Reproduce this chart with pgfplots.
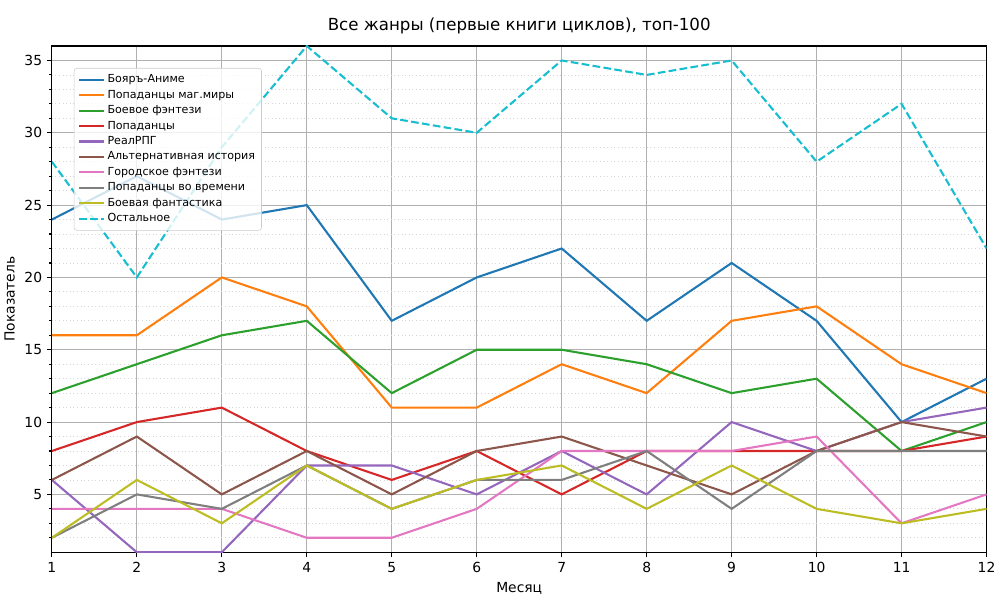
\documentclass[border=0pt]{standalone}
\usepackage{pgfplots}
\pgfplotsset{compat=1.18}
\usepackage{fontspec}
\setmainfont{DejaVu Sans}
\definecolor{tblue}{HTML}{1F77B4}
\definecolor{torange}{HTML}{FF7F0E}
\definecolor{tgreen}{HTML}{2CA02C}
\definecolor{tred}{HTML}{D62728}
\definecolor{tpurple}{HTML}{9467BD}
\definecolor{tbrown}{HTML}{8C564B}
\definecolor{tpink}{HTML}{E377C2}
\definecolor{tgray}{HTML}{7F7F7F}
\definecolor{tolive}{HTML}{BCBD22}
\definecolor{tcyan}{HTML}{17BECF}
\begin{document}
\begin{tikzpicture}
\begin{axis}[
  name=ax,
  at={(0,0)}, anchor=south west,
  scale only axis,
  width=673.9pt, height=365pt,
  xmin=1, xmax=12, ymin=1, ymax=36,
  xtick={1,...,12},
  ytick={5,10,...,35},
  minor ytick={2,...,35},
  grid=both,
  major grid style={color=black!31, line width=0.8pt},
  minor grid style={color=black!16, line width=0.6pt, dotted},
  tick style={black, line width=0.8pt},
  major tick length=3.5pt, minor tick length=2pt,
  tick align=outside,
  xtick pos=bottom, ytick pos=left,
  axis line style={line width=0.8pt},
  /pgf/number format/assume math mode=true,
  ticklabel style={font=\fontsize{10}{12}\selectfont},
  xlabel={Месяц}, ylabel={Показатель},
  label style={font=\fontsize{10}{12}\selectfont},
  title={Все жанры (первые книги циклов), топ-100},
  title style={font=\fontsize{12}{14}\selectfont, yshift=-1pt},
  legend cell align=left,
  legend style={at={(0.0235,0.9566)}, anchor=north west,
    font=\fontsize{8}{9.6}\selectfont, draw=black!20, fill=white, fill opacity=0.8, text opacity=1,
    rounded corners=2pt, inner sep=3pt, row sep=0.6pt,
    nodes={inner sep=1.6pt}},
  legend image code/.code={\draw[#1] (0pt,0pt) -- (18pt,0pt);},
  every axis plot/.append style={line width=1.5pt},
]
\addplot[tblue] coordinates {(1,24)(2,27)(3,24)(4,25)(5,17)(6,20)(7,22)(8,17)(9,21)(10,17)(11,10)(12,13)};
\addlegendentry{Бояръ-Аниме}
\addplot[torange] coordinates {(1,16)(2,16)(3,20)(4,18)(5,11)(6,11)(7,14)(8,12)(9,17)(10,18)(11,14)(12,12)};
\addlegendentry{Попаданцы маг.миры}
\addplot[tgreen] coordinates {(1,12)(2,14)(3,16)(4,17)(5,12)(6,15)(7,15)(8,14)(9,12)(10,13)(11,8)(12,10)};
\addlegendentry{Боевое фэнтези}
\addplot[tred] coordinates {(1,8)(2,10)(3,11)(4,8)(5,6)(6,8)(7,5)(8,8)(9,8)(10,8)(11,8)(12,9)};
\addlegendentry{Попаданцы}
\addplot[tpurple] coordinates {(1,6)(2,1)(3,1)(4,7)(5,7)(6,5)(7,8)(8,5)(9,10)(10,8)(11,10)(12,11)};
\addlegendentry{РеалРПГ}
\addplot[tbrown] coordinates {(1,6)(2,9)(3,5)(4,8)(5,5)(6,8)(7,9)(8,7)(9,5)(10,8)(11,10)(12,9)};
\addlegendentry{Альтернативная история}
\addplot[tpink] coordinates {(1,4)(2,4)(3,4)(4,2)(5,2)(6,4)(7,8)(8,8)(9,8)(10,9)(11,3)(12,5)};
\addlegendentry{Городское фэнтези}
\addplot[tgray] coordinates {(1,2)(2,5)(3,4)(4,7)(5,4)(6,6)(7,6)(8,8)(9,4)(10,8)(11,8)(12,8)};
\addlegendentry{Попаданцы во времени}
\addplot[tolive] coordinates {(1,2)(2,6)(3,3)(4,7)(5,4)(6,6)(7,7)(8,4)(9,7)(10,4)(11,3)(12,4)};
\addlegendentry{Боевая фантастика}
\addplot[tcyan, dash pattern=on 5.55pt off 2.4pt] coordinates {(1,28)(2,20)(3,29)(4,36)(5,31)(6,30)(7,35)(8,34)(9,35)(10,28)(11,32)(12,22)};
\addlegendentry{Остальное}
\end{axis}
\path[use as bounding box] (ax.south west) ++(-36.72pt,-33.84pt) rectangle ++(720pt,432pt);
\end{tikzpicture}
\end{document}
